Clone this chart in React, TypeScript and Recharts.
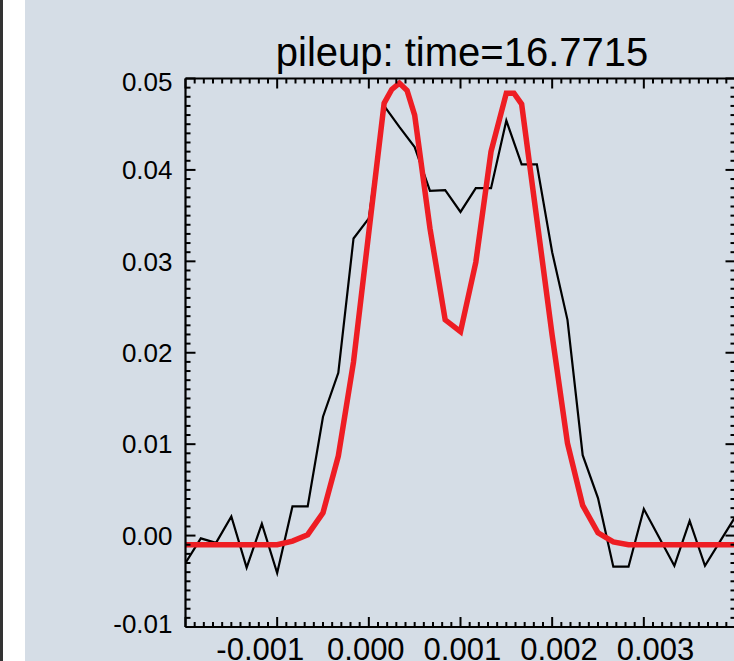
import { LineChart, Line, XAxis, YAxis } from "recharts";

// noisy data (black)
const blackX = [
  -0.002, -0.001833, -0.001667, -0.0015, -0.001333, -0.001167, -0.001, -0.000833, -0.000667,
  -0.0005, -0.000333, -0.000167, 0, 0.000167, 0.000333, 0.0005, 0.000667, 0.000833, 0.001,
  0.001167, 0.001333, 0.0015, 0.001667, 0.001833, 0.002, 0.002167, 0.002333, 0.0025, 0.002667,
  0.002833, 0.003, 0.003167, 0.003333, 0.0035, 0.003667, 0.003833, 0.004,
];
const blackY = [
  -0.003, -0.0003, -0.0008, 0.0021, -0.0035, 0.0013, -0.0041, 0.0032, 0.0032, 0.013, 0.0178,
  0.0325, 0.0347, 0.047, 0.0447, 0.0425, 0.0377, 0.0378, 0.0354, 0.038, 0.038, 0.0454, 0.0406,
  0.0406, 0.031, 0.0236, 0.0088, 0.0041, -0.0034, -0.0034, 0.0029, -0.0002, -0.0033, 0.0016,
  -0.0033, -0.0006, 0.0021,
];

// fitted curve (red)
const redX = [
  -0.002, -0.001, -0.000833, -0.000667, -0.0005, -0.000333, -0.000167, 0, 0.000167, 0.00025,
  0.000333, 0.000417, 0.0005, 0.000667, 0.000833, 0.001, 0.001167, 0.001333, 0.0015, 0.001583,
  0.001667, 0.001833, 0.002, 0.002167, 0.002333, 0.0025, 0.002667, 0.002833, 0.004,
];
const redY = [
  -0.001, -0.001, -0.0006, 0.0001, 0.0025, 0.0087, 0.019, 0.0332, 0.0473, 0.0488, 0.0495, 0.0487,
  0.046, 0.0336, 0.0236, 0.0223, 0.0299, 0.042, 0.0484, 0.0484, 0.0472, 0.0346, 0.0219, 0.0101,
  0.0033, 0.0003, -0.0007, -0.001, -0.001,
];

const xLabels = ["-0.001", "0.000", "0.001", "0.002", "0.003"];
const yLabels = ["-0.01", "0.00", "0.01", "0.02", "0.03", "0.04", "0.05"];
const title = "pileup: time=16.7715";

const xTicks = Array.from({ length: 61 }, (_, i) => (i - 20) / 10000);
const yTicks = Array.from({ length: 61 }, (_, i) => (i - 10) / 1000);

const blackData = blackX.map((x, i) => ({ x, y: blackY[i] }));
const redData = redX.map((x, i) => ({ x, y: redY[i] }));

const W = 800;
const H = 700;
const FONT = "'Liberation Sans', Arial, sans-serif";
// plot box in page pixels
const LEFT = 185.5;
const TOP = 78.5;
const RIGHT = 735.5;
const BOTTOM = 627;

const isMajorX = (v: number) => Math.round(v * 10000) % 10 === 0;
const isMajorY = (v: number) => Math.round(v * 1000) % 10 === 0;

function XTick(props: any) {
  const { x, y, payload, side } = props;
  const v = payload.value as number;
  const major = isMajorX(v);
  const len = major ? 10 : 5;
  const dir = side === "bottom" ? -1 : 1;
  const txt = v.toFixed(3);
  const showLabel = side === "bottom" && major && xLabels.includes(txt);
  // the labels drift a little off their ticks in the original plot
  const dx = -3 + 4.9 * Math.round(v * 1000) + (v < 0 ? -9 : 0);
  return (
    <g>
      <line x1={x} y1={y} x2={x} y2={y + dir * len} stroke="#000" strokeWidth={2} />
      {showLabel && (
        <text x={x + dx} y={y + 33} textAnchor="middle" fontSize={31} fontFamily={FONT} fill="#000">
          {txt}
        </text>
      )}
    </g>
  );
}

function YTick(props: any) {
  const { x, y, payload, side } = props;
  const v = payload.value as number;
  const major = isMajorY(v);
  const len = major ? 10 : 5;
  const dir = side === "left" ? 1 : -1;
  const txt = v.toFixed(2);
  const showLabel = side === "left" && major && yLabels.includes(txt);
  const nudge = txt === "0.05" ? 3 : txt === "-0.01" ? -3 : 0;
  return (
    <g>
      <line x1={x} y1={y} x2={x + dir * len} y2={y} stroke="#000" strokeWidth={2} />
      {showLabel && (
        <text x={x - 13} y={y + 9.3 + nudge} textAnchor="end" fontSize={26} fontFamily={FONT} fill="#000">
          {txt}
        </text>
      )}
    </g>
  );
}

const axisLine = { stroke: "#000", strokeWidth: 2.2 };

export default function App() {
  return (
    <div style={{ position: "absolute", left: 0, top: 0, width: 734, height: 661, overflow: "hidden", background: "#fff" }}>
      <div style={{ position: "absolute", left: 0, top: 0, width: 3, height: 661, background: "#333" }} />
      <div style={{ position: "absolute", left: 25, top: 0, width: 720, height: 661, background: "#d5dde6" }} />
      <div
        style={{
          position: "absolute",
          left: 162,
          top: 32,
          width: 600,
          textAlign: "center",
          fontFamily: FONT,
          fontSize: 40,
          lineHeight: "40px",
          color: "#000",
          whiteSpace: "nowrap",
        }}
      >
        {title}
      </div>
      <div style={{ position: "absolute", left: 0, top: 0 }}>
        <LineChart
          width={W}
          height={H}
          margin={{ top: TOP - 1, left: LEFT - 1, right: W - RIGHT - 1, bottom: H - BOTTOM - 1 }}
        >
          <XAxis
            xAxisId="b"
            orientation="bottom"
            type="number"
            dataKey="x"
            domain={[-0.002, 0.004]}
            allowDataOverflow
            ticks={xTicks}
            interval={0}
            height={1}
            tickSize={0}
            tickMargin={0}
            tickLine={false}
            axisLine={axisLine}
            tick={(p: any) => <XTick {...p} side="bottom" />}
          />
          <XAxis
            xAxisId="t"
            orientation="top"
            type="number"
            dataKey="x"
            domain={[-0.002, 0.004]}
            allowDataOverflow
            ticks={xTicks}
            interval={0}
            height={1}
            tickSize={0}
            tickMargin={0}
            tickLine={false}
            axisLine={axisLine}
            tick={(p: any) => <XTick {...p} side="top" />}
          />
          <YAxis
            yAxisId="l"
            orientation="left"
            type="number"
            domain={[-0.01, 0.05]}
            allowDataOverflow
            ticks={yTicks}
            interval={0}
            width={1}
            tickSize={0}
            tickMargin={0}
            tickLine={false}
            axisLine={axisLine}
            tick={(p: any) => <YTick {...p} side="left" />}
          />
          <YAxis
            yAxisId="r"
            orientation="right"
            type="number"
            domain={[-0.01, 0.05]}
            allowDataOverflow
            ticks={yTicks}
            interval={0}
            width={1}
            tickSize={0}
            tickMargin={0}
            tickLine={false}
            axisLine={axisLine}
            tick={(p: any) => <YTick {...p} side="right" />}
          />
          <Line
            data={blackData}
            xAxisId="b"
            yAxisId="l"
            dataKey="y"
            type="linear"
            stroke="#000"
            strokeWidth={2.2}
            dot={false}
            isAnimationActive={false}
          />
          <Line
            data={redData}
            xAxisId="b"
            yAxisId="l"
            dataKey="y"
            type="linear"
            stroke="#ee1d23"
            strokeWidth={5.5}
            dot={false}
            isAnimationActive={false}
          />
        </LineChart>
      </div>
    </div>
  );
}
